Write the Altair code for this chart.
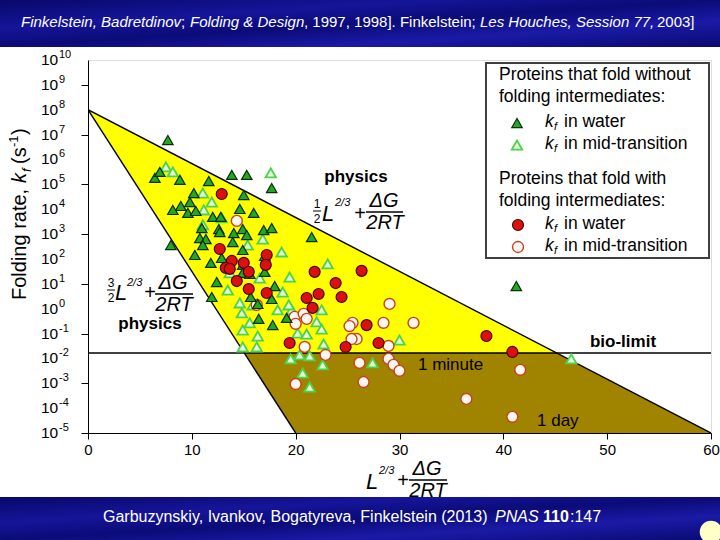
import altair as alt
import pandas as pd

# ---------------- data (x = L^(2/3) + dG/2RT, y = log10 kf) ----------------
dark_x = [7.69, 6.44, 6.92, 8.85, 11.63, 13.85, 15.29, 17.69, 10.19, 15.00, 8.17, 8.94, 9.81, 9.62, 10.38,
          12.02, 12.79, 14.62, 15.96, 10.96, 12.60, 14.04, 14.90, 16.92, 17.69, 10.77, 11.35, 13.94, 15.29,
          11.06, 7.98, 10.29, 11.83, 12.88, 14.90, 17.02, 14.90, 14.90, 12.40, 15.58, 17.02, 17.98, 11.92,
          15.67, 16.35, 17.69, 17.79, 19.13, 21.54, 41.25, 16.44, 12.69]
dark_y = [6.78, 5.26, 5.50, 5.18, 5.13, 5.38, 5.38, 4.85, 4.65, 4.57, 3.97, 4.13, 4.29, 3.85, 3.93,
          3.69, 3.69, 4.01, 3.85, 3.24, 3.20, 3.04, 3.20, 3.16, 3.24, 2.84, 2.80, 2.68, 2.96,
          2.56, 2.56, 2.16, 1.84, 2.04, 2.36, 2.12, 1.76, 1.44, 1.07, 1.40, 1.48, 0.91, 0.47,
          0.47, 0.19, 0.39, -0.66, -0.37, 2.88, 0.91, -0.41, 3.08]

light_x = [7.50, 8.17, 17.60, 11.06, 11.92, 11.15, 11.06, 12.88, 16.83, 15.38, 18.65, 19.42, 16.54, 13.65,
           13.46, 14.62, 14.81, 15.58, 16.35, 14.90, 18.27, 18.75, 20.19, 23.08, 16.25, 14.90, 19.62, 22.50,
           22.02, 22.50, 21.06, 22.69, 30.00, 19.52, 20.38, 21.35, 22.60, 27.40, 20.67, 21.35, 46.54, 15.87, 19.33]
light_y = [5.70, 5.50, 5.46, 4.65, 4.29, 3.97, 3.37, 3.65, 2.80, 2.56, 2.28, 1.27, 1.23, 1.44,
           0.75, 0.23, -0.17, -0.57, -1.10, -0.86, -0.05, 0.67, -0.98, 1.80, -1.54, -1.54, -0.05, -0.05,
           -0.53, -0.82, -1.02, -1.42, -1.26, -2.02, -1.86, -1.90, -2.26, -2.18, -2.59, -3.15, -2.02, 0.15, 0.15]

red_x = [12.88, 12.69, 13.85, 13.27, 13.65, 15.00, 15.48, 14.33, 15.48, 17.21, 17.12, 17.21, 19.42, 21.83,
         26.35, 23.85, 22.21, 24.42, 21.06, 21.63, 26.83, 24.81, 27.98, 38.37, 40.87]
red_y = [4.61, 2.40, 1.92, 1.64, 1.60, 1.84, 1.48, 1.11, 0.79, 2.16, 1.76, 0.63, -1.38, 1.48,
         1.52, 1.03, 0.59, 0.47, 0.43, 0.03, -0.66, -1.54, -1.38, -1.10, -1.74]

open_x = [14.33, 19.90, 20.77, 21.06, 20.00, 29.04, 31.35, 28.46, 25.48, 25.19, 25.87, 25.38, 28.94, 20.87,
          22.88, 26.15, 28.94, 29.42, 30.00, 20.00, 26.54, 36.44, 40.87, 41.63, 16.25]
open_y = [3.53, -0.33, -0.21, -0.41, -0.61, 0.19, -0.57, -0.57, -0.57, -0.70, -1.22, -1.22, -1.50, -1.54,
          -1.86, -2.18, -2.02, -2.26, -2.50, -3.03, -2.95, -3.63, -4.35, -2.46, 0.15]

# theory lines
upper_x = [0, 60]
upper_y = [8, -5]
lower_x = [0, 20]
lower_y = [8, -5]
bio_limit = -1.78          # 1/min
bio_x = [0, 60]

# region vertices (yellow: above bio-limit, olive: below)
yel_x = [0, 15.05, 45.14]
yel_lo = [8, -1.78, -1.78]
yel_hi = [8, 4.74, -1.78]
olv_x = [15.05, 20, 45.14, 60]
olv_lo = [-1.78, -5, -5, -5]
olv_hi = [-1.78, -1.78, -1.78, -5]

x_ticks = [0, 10, 20, 30, 40, 50, 60]
y_ticks = list(range(-5, 11))
y_tick_exp = [str(v) for v in y_ticks]

# ---------------- layout helpers ----------------
W, H = 623, 373
L0, T0 = 88, 60
FONT = "Liberation Sans, Arial, sans-serif"

XS = alt.Scale(domain=[0, 60], nice=False, zero=False)
YS = alt.Scale(domain=[-5, 10], nice=False, zero=False)
one = pd.DataFrame({"d": [0]})


def px(X):
    return X - L0


def py(Y):
    return Y - T0


def txt(t, X, Y, size=15, color="black", font=FONT, style="normal", weight="normal",
        align="left", baseline="middle", angle=None):
    kw = dict(fontSize=size, color=color, font=font, fontStyle=style, fontWeight=weight,
              align=align, baseline=baseline)
    if angle is not None:
        kw["angle"] = angle
    return alt.Chart(pd.DataFrame({"t": [t]})).mark_text(**kw).encode(
        x=alt.value(px(X)), y=alt.value(py(Y)), text="t:N")


def rect(X1, Y1, X2, Y2, **kw):
    return alt.Chart(one).mark_rect(**kw).encode(
        x=alt.value(px(X1)), x2=alt.value(px(X2)), y=alt.value(py(Y1)), y2=alt.value(py(Y2)))


def hbar(X1, X2, Y, w=1.3, color="black"):
    return alt.Chart(one).mark_rule(color=color, strokeWidth=w).encode(
        x=alt.value(px(X1)), x2=alt.value(px(X2)), y=alt.value(py(Y)))


def sym(X, Y, **kw):
    return alt.Chart(one).mark_point(opacity=1, filled=True, **kw).encode(
        x=alt.value(px(X)), y=alt.value(py(Y)))


DARK = dict(shape="triangle-up", fill="#23a823", stroke="#0b2e0b", strokeWidth=1.2, size=110)
LIGHT = dict(shape="triangle-up", fill="#e4fbd8", stroke="#4cd24c", strokeWidth=1.8, size=110)
RED = dict(shape="circle", fill="#dc1010", stroke="#500000", strokeWidth=1.2, size=120)
OPEN = dict(shape="circle", fill="#fff6f2", stroke="#c8401a", strokeWidth=1.4, size=120)

layers = []

# regions
yel = pd.DataFrame({"x": yel_x, "lo": yel_lo, "hi": yel_hi})
olv = pd.DataFrame({"x": olv_x, "lo": olv_lo, "hi": olv_hi})
layers.append(alt.Chart(yel).mark_area(color="#ffff00", opacity=1).encode(
    x=alt.X("x:Q", scale=XS, axis=alt.Axis(values=x_ticks, grid=False, title=None, tickSize=6,
                                           labelFontSize=15, labelFont=FONT, labelColor="black",
                                           domainColor="black", tickColor="black", labelPadding=3,
                                           labelFlush=False)),
    y=alt.Y("lo:Q", scale=YS, axis=alt.Axis(values=y_ticks, labels=False, grid=False, title=None,
                                            tickSize=7, domainColor="black", tickColor="black")),
    y2="hi:Q"))
layers.append(alt.Chart(olv).mark_area(color="#a08400", opacity=1).encode(
    x=alt.X("x:Q", scale=XS), y=alt.Y("lo:Q", scale=YS), y2="hi:Q"))

# lines
for lx, ly in [(upper_x, upper_y), (lower_x, lower_y), (bio_x, [bio_limit, bio_limit])]:
    layers.append(alt.Chart(pd.DataFrame({"x": lx, "y": ly})).mark_line(
        color="black", strokeWidth=1.4, clip=True).encode(
        x=alt.X("x:Q", scale=XS), y=alt.Y("y:Q", scale=YS)))

# points
for xs, ys, st in [(light_x, light_y, LIGHT), (open_x, open_y, OPEN),
                   (dark_x, dark_y, DARK), (red_x, red_y, RED)]:
    layers.append(alt.Chart(pd.DataFrame({"x": xs, "y": ys})).mark_point(
        opacity=1, filled=True, **st).encode(
        x=alt.X("x:Q", scale=XS), y=alt.Y("y:Q", scale=YS)))

# y tick labels 10^n
ytl = pd.DataFrame({"v": y_ticks, "e": y_tick_exp, "b": ["10"] * len(y_ticks)})
layers.append(alt.Chart(ytl).mark_text(align="left", baseline="middle", fontSize=15.5, font=FONT,
                                       color="black").encode(
    x=alt.value(px(41)), y=alt.Y("v:Q", scale=YS), text="b:N"))
layers.append(alt.Chart(ytl).mark_text(align="left", baseline="middle", fontSize=11, font=FONT,
                                       color="black", dy=-5).encode(
    x=alt.value(px(59)), y=alt.Y("v:Q", scale=YS), text="e:N"))

# y-axis title (rotated pieces)
layers += [
    txt("Folding rate, ", 26, 300, size=20, angle=270, baseline="alphabetic"),
    txt("k", 26, 183, size=20, angle=270, baseline="alphabetic", style="italic"),
    txt("f", 31, 172, size=13, angle=270, baseline="alphabetic", style="italic"),
    txt("(s", 26, 164, size=20, angle=270, baseline="alphabetic"),
    txt("-1", 18, 147, size=13, angle=270, baseline="alphabetic"),
    txt(")", 26, 135, size=20, angle=270, baseline="alphabetic"),
]

# x-axis title formula
layers += [
    txt("L", 366, 482, size=22, style="italic"),
    txt("2/3", 379, 471, size=11, style="italic"),
    txt("+", 403, 481, size=20, align="center"),
    txt("\u0394G", 427, 469, size=20, style="italic", align="center"),
    hbar(409, 447, 480),
    txt("2RT", 428, 491, size=20, style="italic", align="center"),
]

# upper formula + physics
layers += [
    txt("physics", 356, 177, size=17, weight="bold", align="center"),
    txt("1", 317, 204, size=12, align="center"),
    hbar(313, 321, 211, w=1),
    txt("2", 317, 219, size=12, align="center"),
    txt("L", 322, 214, size=22, style="italic"),
    txt("2/3", 335, 203, size=11, style="italic"),
    txt("+", 360, 214, size=20, align="center"),
    txt("\u0394G", 384, 201, size=20, style="italic", align="center"),
    hbar(366, 403, 212),
    txt("2RT", 385, 223, size=20, style="italic", align="center"),
]

# lower formula + physics
layers += [
    txt("3", 111, 283, size=12, align="center"),
    hbar(107, 115, 290, w=1),
    txt("2", 111, 298, size=12, align="center"),
    txt("L", 115, 293, size=22, style="italic"),
    txt("2/3", 127, 283, size=11, style="italic"),
    txt("+", 150, 293, size=20, align="center"),
    txt("\u0394G", 173, 283, size=20, style="italic", align="center"),
    hbar(155, 193, 294),
    txt("2RT", 174, 305, size=20, style="italic", align="center"),
    txt("physics", 150, 324, size=17, weight="bold", align="center"),
]

# region labels
layers += [
    txt("bio-limit", 623, 342, size=17, weight="bold", align="center"),
    txt("1 minute", 418, 365, size=17),
    txt("1 day", 537, 421, size=17),
]

# legend box
LF = 17.5
layers.append(rect(486, 63, 709, 258, fill="white", stroke="#404040", strokeWidth=2))
layers += [
    txt("Proteins that fold without", 499, 75, size=LF),
    txt("folding intermediates:", 499, 97, size=LF),
    sym(517, 123, **DARK),
    sym(517, 145, **LIGHT),
    txt("Proteins that fold with", 499, 179, size=LF),
    txt("folding intermediates:", 499, 201, size=LF),
    sym(518, 225, **RED),
    sym(518, 247, **OPEN),
]
for yy, lab in [(122, "in water"), (144, "in mid-transition"), (224, "in water"), (246, "in mid-transition")]:
    layers += [
        txt("k", 545, yy, size=LF, style="italic"),
        txt("f", 554, yy + 5, size=11, style="italic"),
        txt(lab, 564, yy, size=LF),
    ]

# banners
GRAD = {"gradient": "linear", "x1": 0, "y1": 0, "x2": 1, "y2": 1,
        "stops": [{"offset": 0, "color": "#08086a"}, {"offset": 0.3, "color": "#15159a"},
                  {"offset": 0.5, "color": "#0b0b78"}, {"offset": 0.72, "color": "#1a1aa6"},
                  {"offset": 1, "color": "#0a0a72"}]}
TB = 15
BB = 16
layers.append(rect(0, 0, 720, 47, color=GRAD))
layers.append(rect(0, 497, 720, 540, color=GRAD))
layers += [
    txt("Finkelstein, Badretdinov", 21, 22, size=TB, color="white", style="italic"),
    txt(";", 181, 22, size=TB, color="white"),
    txt("Folding & Design", 190, 22, size=TB, color="white", style="italic"),
    txt(", 1997, 1998].  Finkelstein;", 304, 22, size=TB, color="white"),
    txt("Les Houches, Session 77,", 480, 22, size=TB, color="white", style="italic"),
    txt("2003]", 657, 22, size=TB, color="white"),
    txt("Garbuzynskiy, Ivankov, Bogatyreva, Finkelstein (2013)", 103, 517, size=BB, color="white"),
    txt("PNAS", 495, 517, size=BB, color="white", style="italic"),
    txt("110", 543, 517, size=BB, color="white", weight="bold"),
    txt(":147", 570, 517, size=BB, color="white"),
    sym(711, 532, shape="circle", size=420, fill="#ffffc8", stroke="#ffffc8"),
]

chart = alt.layer(*layers).properties(
    width=W, height=H,
    autosize=alt.AutoSizeParams(type="none"),
    padding={"left": L0, "top": T0, "right": 720 - L0 - W, "bottom": 540 - T0 - H},
).configure_view(fill="#a2a2a2", stroke="#555555", strokeWidth=1).configure(background="white")

chart.save("out.html", embed_options={"renderer": "svg", "actions": False})
